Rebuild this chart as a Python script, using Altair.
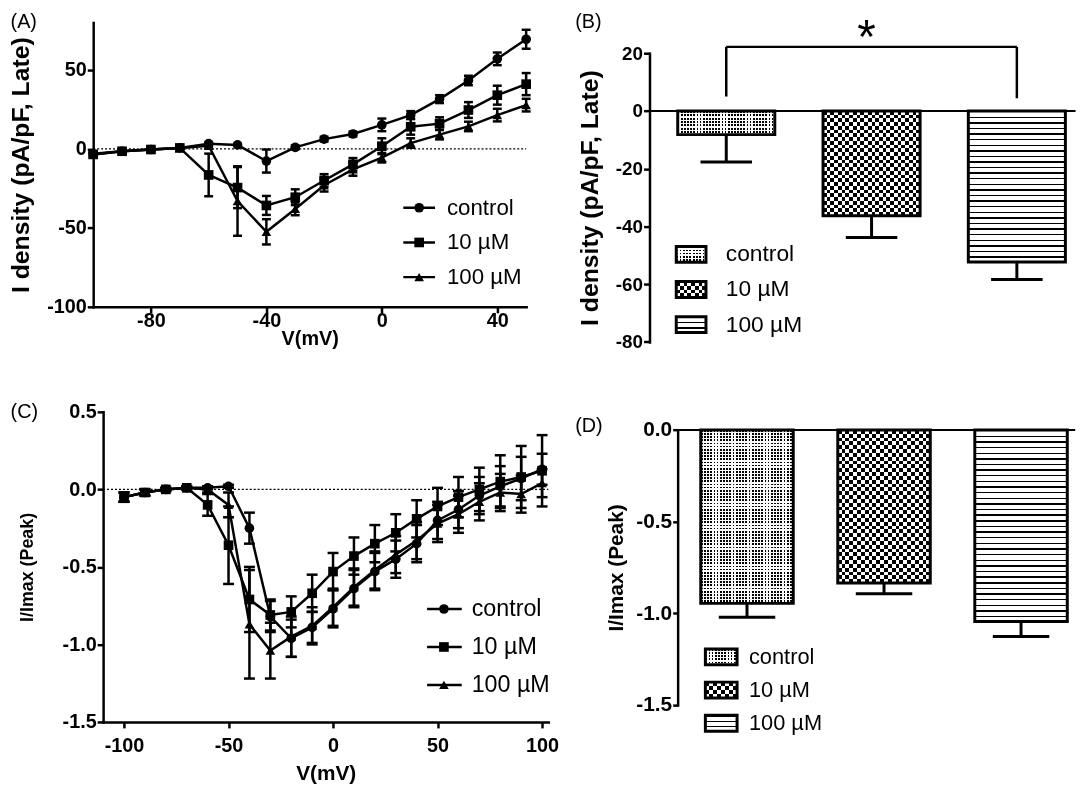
import altair as alt
import pandas as pd

FONT = "Liberation Sans"
series = ["control", "10 µM", "100 µM"]
marker_shapes = ["circle", "square", "triangle-up"]

# ---------------- Panel A : I density (late) vs V ----------------
V_A = [-100, -90, -80, -70, -60, -50, -40, -30, -20, -10, 0, 10, 20, 30, 40, 50]
A_control = [-3, -1.5, -0.4, 0.6, 3.3, 2.5, -7.7, 1.0, 6.2, 9.4, 15.2, 21.4, 31.5, 43.3, 57.0, 69.4]
A_control_err = [1, 0.8, 0.6, 0.6, 0.8, 0.8, 7.3, 1.2, 1.5, 1.5, 4, 2.5, 2.5, 3, 4, 6]
A_10 = [-3.5, -1.5, -0.4, 0.6, -16.5, -24.5, -35.8, -30.6, -20, -9.8, 1.7, 14, 16, 24.6, 34, 41]
A_10_err = [1, 0.8, 0.6, 0.6, 13.5, 13, 6, 5, 4, 4, 5, 5, 4, 5, 6, 7]
A_100 = [-3.5, -1.5, -0.4, 0.6, 2, -33, -52.5, -38, -23, -13, -5.6, 3.7, 9, 14.2, 21.4, 27.7]
A_100_err = [1, 0.8, 0.6, 0.6, 1, 22, 8, 4, 4, 4, 3, 3, 3, 3, 4, 4]

# ---------------- Panel B : late current bars ----------------
B_mean = [-8.2, -36.3, -52.3]
B_err = [9.5, 7.5, 6.1]
bracket_top = 22.2
bracket_left_end = 5.0
bracket_right_end = 4.4
star_y = 33.0

# ---------------- Panel C : I/Imax (peak) vs V ----------------
V_C = [-100, -90, -80, -70, -60, -50, -40, -30, -20, -10, 0, 10, 20, 30, 40, 50, 60, 70, 80, 90, 100]
C_control = [-0.05, -0.02, 0.0, 0.01, 0.01, 0.02, -0.25, -0.82, -0.96, -0.89, -0.77, -0.64, -0.53, -0.45,
             -0.35, -0.2, -0.13, -0.04, 0.02, 0.07, 0.13]
C_control_err = [0.03, 0.02, 0.01, 0.01, 0.01, 0.01, 0.1, 0.1, 0.12, 0.1, 0.12, 0.12, 0.12, 0.12,
                 0.12, 0.12, 0.12, 0.12, 0.13, 0.14, 0.1]
C_10 = [-0.05, -0.02, 0.0, 0.01, -0.1, -0.36, -0.71, -0.81, -0.79, -0.67, -0.53, -0.43, -0.35, -0.28,
        -0.19, -0.11, -0.05, 0.0, 0.05, 0.08, 0.12]
C_10_err = [0.03, 0.02, 0.01, 0.01, 0.07, 0.25, 0.21, 0.1, 0.1, 0.12, 0.12, 0.12, 0.12, 0.12,
            0.12, 0.12, 0.13, 0.14, 0.17, 0.2, 0.23]
C_100 = [-0.05, -0.02, 0.0, 0.01, 0.0, -0.1, -0.87, -1.04, -0.95, -0.88, -0.76, -0.63, -0.52, -0.42,
         -0.33, -0.22, -0.16, -0.08, -0.02, -0.03, 0.04]
C_100_err = [0.03, 0.02, 0.01, 0.01, 0.02, 0.08, 0.35, 0.18, 0.13, 0.12, 0.12, 0.12, 0.12, 0.12,
             0.12, 0.12, 0.12, 0.12, 0.12, 0.12, 0.09]

# ---------------- Panel D : peak bars ----------------
D_mean = [-0.946, -0.835, -1.045]
D_err = [0.076, 0.058, 0.082]

MINUS_FIX = "replace(datum.label, '\u2212', '-')"


def mk_axis(**kw):
    base = dict(grid=False, domainColor="black", domainWidth=2.5, domainCap="square",
                tickColor="black", tickWidth=2.5, tickSize=6, labelColor="black", labelFont=FONT,
                labelFontWeight="bold", titleFont=FONT, titleFontWeight="bold", titleColor="black",
                labelExpr=MINUS_FIX, labelPadding=1)
    base.update(kw)
    return alt.Axis(**base)


def long_df(V, means, errs):
    rows = []
    for s, m, e in zip(series, means, errs):
        for v, mi, ei in zip(V, m, e):
            rows.append({"V": v, "series": s, "mean": mi, "lo": mi - ei, "hi": mi + ei})
    return pd.DataFrame(rows)


def tag_layer(text, x, y):
    return alt.Chart(pd.DataFrame({"t": [text]})).mark_text(
        align="left", baseline="top", font=FONT, fontSize=20, color="black"
    ).encode(x=alt.value(x), y=alt.value(y), text="t:N")


def line_panel(V, means, errs, xdom, xrange, ydom, width, height, xaxis, yaxis, cap_w, leg, tag, tag_xy):
    df = long_df(V, means, errs)
    xs = alt.Scale(domain=xdom, range=xrange, nice=False, zero=False)
    ysc = alt.Scale(domain=ydom, nice=False, zero=False)
    X = alt.X("V:Q", scale=xs, axis=xaxis)

    def Y(f):
        return alt.Y(f + ":Q", scale=ysc, axis=yaxis)

    base = alt.Chart(df)
    zero = alt.Chart(pd.DataFrame({"z": [0]})).mark_rule(
        color="black", strokeWidth=1.2, strokeDash=[2, 2]).encode(
        x=alt.value(xrange[0]), x2=alt.value(xrange[1]), y=Y("z"))
    err = base.mark_rule(color="black", strokeWidth=2.5).encode(x=X, y=Y("lo"), y2="hi:Q")
    cap_lo = base.mark_point(shape="M-1,0L1,0", filled=False, color="black", strokeWidth=2.5,
                             size=cap_w ** 2, opacity=1).encode(x=X, y=Y("lo"))
    cap_hi = base.mark_point(shape="M-1,0L1,0", filled=False, color="black", strokeWidth=2.5,
                             size=cap_w ** 2, opacity=1).encode(x=X, y=Y("hi"))
    line = base.mark_line(color="black", strokeWidth=2.5).encode(x=X, y=Y("mean"), detail="series:N")
    pts = base.mark_point(filled=True, color="black", opacity=1, size=95).encode(
        x=X, y=Y("mean"),
        shape=alt.Shape("series:N", scale=alt.Scale(domain=series, range=marker_shapes), legend=None))
    layers = [zero, err, cap_lo, cap_hi, line, pts]
    for i, s in enumerate(series):
        yy = leg["y0"] + i * leg["dy"]
        one = alt.Chart(pd.DataFrame({"series": [s]}))
        layers += [
            one.mark_rule(color="black", strokeWidth=2.5).encode(
                x=alt.value(leg["lx0"]), x2=alt.value(leg["lx1"]), y=alt.value(yy)),
            one.mark_point(shape=marker_shapes[i], filled=True, color="black", opacity=1, size=95).encode(
                x=alt.value(leg["mx"]), y=alt.value(yy)),
            one.mark_text(align="left", baseline="middle", font=FONT, fontSize=leg["fs"], color="black").encode(
                x=alt.value(leg["tx"]), y=alt.value(yy), text="series:N"),
        ]
    layers.append(tag_layer(tag, *tag_xy))
    return alt.layer(*layers).properties(width=width, height=height)


def band_grad(n, duty, horizontal=True):
    n = max(1, int(round(n)))
    stops = []
    for k in range(n):
        a = k / n
        b = (k + duty) / n
        c = (k + 1) / n
        stops += [{"offset": a, "color": "black"}, {"offset": b, "color": "black"},
                  {"offset": b, "color": "white"}, {"offset": c, "color": "white"}]
    d = dict(x1=0, y1=0, x2=0, y2=1) if horizontal else dict(x1=0, y1=0, x2=1, y2=0)
    return dict(gradient="linear", stops=stops, **d)


PATTERNS = {"control": ("dots", 3.2, 0.55), "10 µM": ("checker", 7.6, 0.5), "100 µM": ("lines", 5.7, 0.25)}


def pattern_fills(cat, w, h):
    kind, period, duty = PATTERNS[cat]
    if kind == "lines":
        return [(band_grad(h / period, duty, True), None)]
    bottom = band_grad(h / period, duty, True)
    top = band_grad(w / period, duty, False)
    return [(bottom, None), (top, "lighten" if kind == "dots" else "difference")]


def bar_panel(means, errs, ydom, yrange, width, height, pi, po, al, yaxis, cap_w, leg, tag, tag_xy,
              zero_x0, bracket=False):
    df = pd.DataFrame({"cat": series, "mean": means, "lo": [m - e for m, e in zip(means, errs)]})
    xs = alt.Scale(domain=series, paddingInner=pi, paddingOuter=po, align=al)
    X = alt.X("cat:N", scale=xs, axis=None)
    ysc = alt.Scale(domain=ydom, range=yrange, nice=False, zero=False)

    def Y(f):
        return alt.Y(f + ":Q", scale=ysc, axis=yaxis)

    step = width / (len(series) - pi + 2 * po)
    bw = step * (1 - pi)
    ppu = (yrange[0] - yrange[1]) / (ydom[1] - ydom[0])
    layers = []
    for s, m in zip(series, means):
        c = alt.Chart(df).transform_filter(alt.datum.cat == s)
        for fill, blend in pattern_fills(s, bw, abs(m) * ppu):
            mk = c.mark_bar(blend=blend) if blend else c.mark_bar()
            layers.append(mk.encode(x=X, y=Y("mean"), y2=alt.datum(0), fill=alt.value(fill)))
    base = alt.Chart(df)
    layers.append(base.mark_bar(fillOpacity=0, stroke="black", strokeWidth=3).encode(
        x=X, y=Y("mean"), y2=alt.datum(0)))
    layers.append(base.mark_rule(color="black", strokeWidth=3).encode(x=X, y=Y("mean"), y2="lo:Q"))
    layers.append(base.mark_point(shape="M-1,0L1,0", filled=False, color="black", strokeWidth=3,
                                  size=cap_w ** 2, opacity=1).encode(x=X, y=Y("lo")))
    layers.append(alt.Chart(pd.DataFrame({"z": [0]})).mark_rule(color="black", strokeWidth=2).encode(
        x=alt.value(zero_x0), x2=alt.value(width), y=Y("z")))
    if bracket:
        bv = pd.DataFrame({"cat": [series[0], series[2]], "lo": [bracket_left_end, bracket_right_end],
                           "hi": [bracket_top, bracket_top]})
        layers.append(alt.Chart(bv).mark_rule(color="black", strokeWidth=2.5).encode(
            x=X, y=Y("lo"), y2="hi:Q"))
        bh = pd.DataFrame({"a": [series[0]], "b": [series[2]], "y": [bracket_top]})
        layers.append(alt.Chart(bh).mark_rule(color="black", strokeWidth=2.5).encode(
            x=alt.X("a:N", scale=xs, axis=None), x2="b:N", y=Y("y")))
        st = pd.DataFrame({"cat": [series[1]], "y": [star_y], "t": ["*"]})
        layers.append(alt.Chart(st).mark_text(font=FONT, fontSize=48, baseline="top", dx=-5,
                                               color="black").encode(x=X, y=Y("y"), text="t:N"))
    # legend swatches
    for i, s in enumerate(series):
        top = leg["y0"] + i * leg["dy"]
        one = alt.Chart(pd.DataFrame({"series": [s]}))
        enc = dict(x=alt.value(leg["x0"]), x2=alt.value(leg["x1"]), y=alt.value(top), y2=alt.value(top + leg["h"]))
        for fill, blend in pattern_fills(s, leg["x1"] - leg["x0"], leg["h"]):
            mk = one.mark_rect(blend=blend) if blend else one.mark_rect()
            layers.append(mk.encode(fill=alt.value(fill), **enc))
        layers.append(one.mark_rect(fillOpacity=0, stroke="black", strokeWidth=3).encode(**enc))
        layers.append(one.mark_text(align="left", baseline="middle", font=FONT, fontSize=leg["fs"],
                                    color="black").encode(x=alt.value(leg["tx"]), y=alt.value(top + leg["h"] / 2),
                                                          text="series:N"))
    layers.append(tag_layer(tag, *tag_xy))
    return alt.layer(*layers).properties(width=width, height=height)


panelA = line_panel(
    V_A, [A_control, A_10, A_100], [A_control_err, A_10_err, A_100_err],
    xdom=[-100, 50], xrange=[0, 437], ydom=[-100, 80], width=437, height=287,
    xaxis=mk_axis(values=[-80, -40, 0, 40], title="V(mV)", labelFontSize=20, titleFontSize=20,
                  labelPadding=-2, titlePadding=-2),
    yaxis=mk_axis(values=[-100, -50, 0, 50], title="I density (pA/pF, Late)", labelFontSize=20,
                  titleFontSize=25, titlePadding=13),
    cap_w=9,
    leg=dict(y0=187, dy=35, lx0=313, lx1=345, mx=329, tx=357, fs=22.5),
    tag="(A)", tag_xy=(-83.4, -10.3))

panelB = bar_panel(
    B_mean, B_err, ydom=[-80, 20], yrange=[322.4, 31], width=430, height=322.4,
    pi=0.332, po=0.132, al=0.736,
    yaxis=mk_axis(values=[20, 0, -20, -40, -60, -80], title="I density (pA/pF, Late)",
                  labelFontSize=19, titleFontSize=25, titlePadding=13),
    cap_w=52,
    leg=dict(x0=27, x1=57, y0=226, dy=35.5, h=16, tx=77, fs=23),
    tag="(B)", tag_xy=(-75, -10.3), zero_x0=0, bracket=True)

panelC = line_panel(
    V_C, [C_control, C_10, C_100], [C_control_err, C_10_err, C_100_err],
    xdom=[-110, 103], xrange=[10, 459.4], ydom=[-1.5, 0.5], width=459.4, height=313,
    xaxis=mk_axis(values=[-100, -50, 0, 50, 100], title="V(mV)", labelFontSize=20, titleFontSize=21,
                  labelPadding=8, titlePadding=7),
    yaxis=mk_axis(values=[0.5, 0, -0.5, -1, -1.5], format=".1f", title="I/Imax (Peak)", labelFontSize=20,
                  titleFontSize=18, titlePadding=26, offset=-10),
    cap_w=11,
    leg=dict(y0=199, dy=38.3, lx0=337, lx1=372, mx=354, tx=382, fs=23.5),
    tag="(C)", tag_xy=(-83.4, -10))

panelD = bar_panel(
    D_mean, D_err, ydom=[-1.5, 0], yrange=[295.8, 18.3], width=429.7, height=313,
    pi=0.325, po=0.216, al=0.866,
    yaxis=mk_axis(values=[0, -0.5, -1, -1.5], format=".1f", title="I/Imax (Peak)", labelFontSize=21,
                  titleFontSize=21, titlePadding=9, tickSize=5, offset=-28.4),
    cap_w=57,
    leg=dict(x0=56.4, x1=88.4, y0=239.3, dy=33.5, h=16, tx=100.4, fs=22),
    tag="(D)", tag_xy=(-75, 4), zero_x0=28.4)

chart = alt.concat(
    panelA, panelB, panelC, panelD, columns=2,
    spacing={"row": 50, "column": 16.5}, padding=0,
).configure_view(stroke=None)

chart.save("out.html", embed_options={"renderer": "svg", "actions": False})
